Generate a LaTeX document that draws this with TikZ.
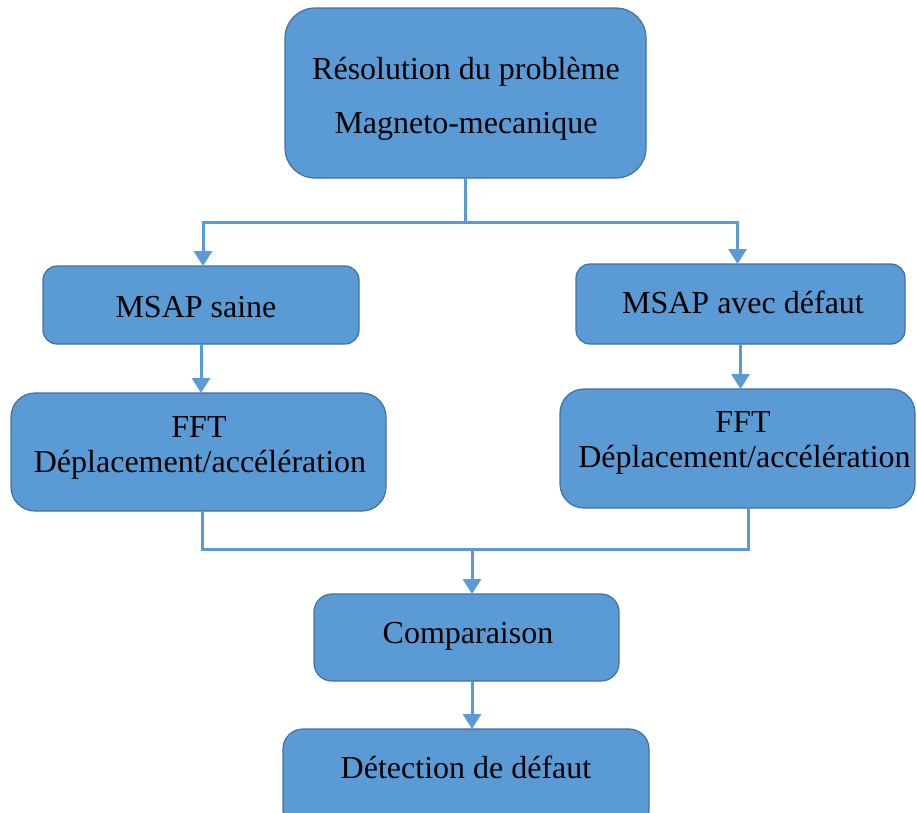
\documentclass[tikz,border=0pt]{standalone}
\usepackage{fontspec}
\setmainfont{Liberation Serif}
\usetikzlibrary{arrows.meta}
\definecolor{boxfill}{HTML}{5B9BD5}
\definecolor{boxline}{HTML}{41719C}
\definecolor{linkcol}{HTML}{5B9BD5}
\begin{document}
\begin{tikzpicture}[x=1pt,y=-1pt,
  flowbox/.style={draw=boxline, line width=1.2pt, fill=boxfill, rectangle, rounded corners=#1, inner sep=0pt, outer sep=0pt},
  lbl/.style={anchor=base, inner sep=0pt, font=\fontsize{32}{35}\selectfont, text=black},
  link/.style={draw=linkcol, line width=3pt},
  arr/.style={link, -{Triangle[width=18pt,length=15pt]}}]
\useasboundingbox (0,0) rectangle (917,812);

% boxes
\node[flowbox=30pt, minimum width=361pt, minimum height=170pt] (top)  at (465.5,93)    {};
\node[flowbox=14pt, minimum width=316pt, minimum height=78pt]  (msl)  at (201,305)     {};
\node[flowbox=14pt, minimum width=329pt, minimum height=80pt]  (msr)  at (740.5,304)   {};
\node[flowbox=24pt, minimum width=375pt, minimum height=118pt] (fftl) at (198.5,452)   {};
\node[flowbox=24pt, minimum width=355pt, minimum height=119pt] (fftr) at (737.5,448.5) {};
\node[flowbox=18pt, minimum width=305pt, minimum height=87pt]  (comp) at (466.5,637.5) {};
\node[flowbox=20pt, minimum width=366pt, minimum height=101pt] (det)  at (466,779.5)   {};

% texts
\node[lbl] (topa)  at (466,79)    {Résolution du problème};
\node[lbl] (topb)  at (466,133)   {Magneto-mecanique};
\node[lbl] (msla)  at (196,317)   {MSAP saine};
\node[lbl] (msra)  at (743,313)   {MSAP avec défaut};
\node[lbl] (fftla) at (199,437)   {FFT};
\node[lbl] (fftlb) at (200,472)   {Déplacement/accélération};
\node[lbl] (fftra) at (743,432)   {FFT};
\node[lbl] (fftrb) at (744.5,467) {Déplacement/accélération};
\node[lbl] (compa) at (468,643)   {Comparaison};
\node[lbl] (deta)  at (466,778)   {Détection de défaut};

% junction points
\coordinate (jt) at (465,222);
\coordinate (bl) at (202,549);
\coordinate (br) at (748,549);
\coordinate (jb) at (472,549);

% connectors
\draw[link] (top.south -| jt) -- (jt);
\draw[arr] (jt) -| ([xshift=2pt]msl.north);
\draw[arr] (jt) -| ([xshift=-3pt]msr.north);
\draw[arr] (msl.south) -- (msl.south |- fftl.north);
\draw[arr] (msr.south) -- (msr.south |- fftr.north);
\draw[link] (fftl.south -| bl) -- (bl) -- (br) -- (fftr.south -| br);
\draw[arr] (jb) -- (jb |- comp.north);
\draw[arr] (comp.south -| jb) -- (det.north -| jb);
\end{tikzpicture}
\end{document}
